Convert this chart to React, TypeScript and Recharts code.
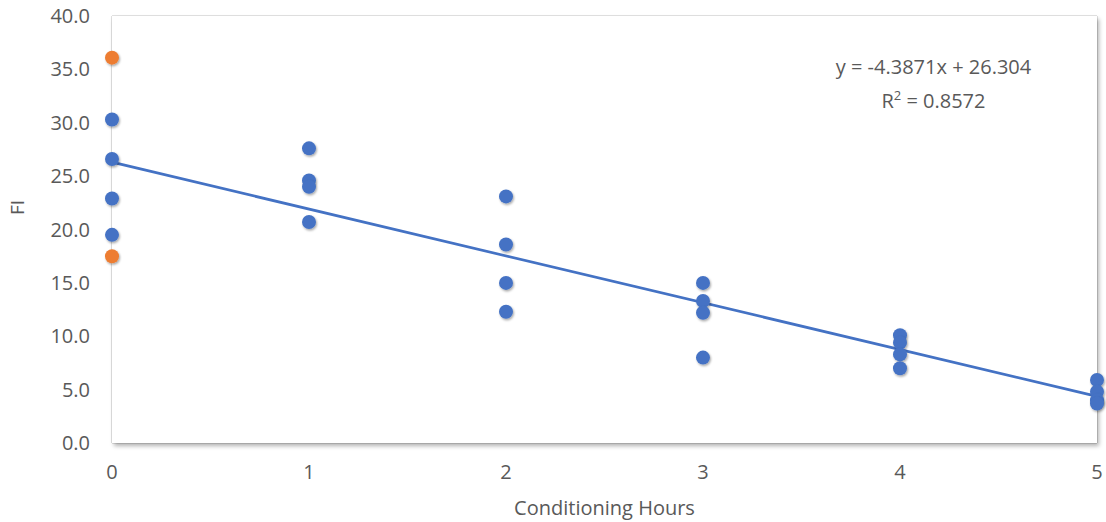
// FI vs. conditioning hours scatter with linear trendline

import {
  ComposedChart,
  Scatter,
  Line,
  XAxis,
  YAxis,
  CartesianGrid,
  ReferenceArea,
  ReferenceDot,
} from "recharts";

const FONT = "'Open Sans', 'Liberation Sans', sans-serif";
const TEXT_COLOR = "#595959";
const BLUE = "#4472C4";
const ORANGE = "#ED7D31";

const hourTicks = [0, 1, 2, 3, 4, 5];
const fiTicks = [0, 5, 10, 15, 20, 25, 30, 35, 40];

// Measured samples
const blueHours = [0, 0, 0, 0, 1, 1, 1, 1, 2, 2, 2, 2, 3, 3, 3, 3, 4, 4, 4, 4, 5, 5, 5, 5];
const blueFI = [
  30.3, 26.6, 22.9, 19.5,
  27.6, 24.6, 24.0, 20.7,
  23.1, 18.6, 15.0, 12.3,
  15.0, 13.3, 12.2, 8.0,
  10.1, 9.4, 8.3, 7.0,
  5.9, 4.8, 4.0, 3.7,
];

// Outliers, left out of the fit
const orangeHours = [0, 0];
const orangeFI = [36.1, 17.5];

// Fit reported on the chart
const slope = -4.3871;
const intercept = 26.304;
const rSquared = 0.8572;

const bluePoints = blueHours.map((x, i) => ({ x, y: blueFI[i] }));
const orangePoints = orangeHours.map((x, i) => ({ x, y: orangeFI[i] }));
const trendPoints = [0, 5].map((x) => ({ x, y: slope * x + intercept }));

const dot = (color: string) => (props: any) => (
  <circle cx={props.cx} cy={props.cy} r={7} fill={color} filter="url(#dotShadow)" />
);

const equationLabel = (props: any) => {
  const { viewBox } = props;
  const cx = viewBox.x;
  const cy = viewBox.y;
  return (
    <g fontFamily={FONT} fontSize={20} fill={TEXT_COLOR} textAnchor="middle">
      <text x={cx} y={cy}>
        {`y = ${slope}x + ${intercept}`}
      </text>
      <text x={cx} y={cy + 34}>
        R<tspan dy={-8} fontSize={13}>2</tspan>
        <tspan dy={8}>{` = ${rSquared}`}</tspan>
      </text>
    </g>
  );
};

const yAxisTitle = (props: any) => {
  const { viewBox } = props;
  const x = 17;
  const y = viewBox.y + viewBox.height / 2 - 22;
  return (
    <text
      x={x}
      y={y}
      transform={`rotate(-90, ${x}, ${y})`}
      textAnchor="middle"
      dominantBaseline="central"
      fontFamily={FONT}
      fontSize={19}
      fill={TEXT_COLOR}
    >
      FI
    </text>
  );
};

export default function App() {
  return (
    <div style={{ position: "absolute", left: 0, top: 0, background: "#fff" }}>
      <ComposedChart
        width={1106}
        height={522}
        margin={{ top: 16, right: 9, left: 0, bottom: 0 }}
      >
        <defs>
          <filter id="dotShadow" x="-50%" y="-50%" width="200%" height="200%">
            <feDropShadow dx={1} dy={1.5} stdDeviation={1.2} floodColor="#000" floodOpacity={0.35} />
          </filter>
          <filter id="plotShadow" x="-5%" y="-5%" width="110%" height="110%">
            <feDropShadow dx={2} dy={3} stdDeviation={2} floodColor="#000" floodOpacity={0.3} />
          </filter>
        </defs>

        <ReferenceArea
          x1={0}
          x2={5}
          y1={0}
          y2={40}
          fill="#fff"
          fillOpacity={1}
          stroke="none"
          filter="url(#plotShadow)"
        />

        <CartesianGrid stroke="#d9d9d9" strokeWidth={1.6} />

        <XAxis
          type="number"
          dataKey="x"
          domain={[0, 5]}
          ticks={hourTicks}
          height={79}
          axisLine={false}
          tickLine={false}
          tickSize={6}
          tickMargin={16}
          tick={{ fill: TEXT_COLOR, fontSize: 20, fontFamily: FONT }}
          label={{
            value: "Conditioning Hours",
            position: "insideBottom",
            offset: 7,
            fill: TEXT_COLOR,
            fontSize: 20,
            fontFamily: FONT,
          }}
        />

        <YAxis
          type="number"
          dataKey="y"
          domain={[0, 40]}
          ticks={fiTicks}
          width={112}
          axisLine={false}
          tickLine={false}
          tickSize={6}
          tickMargin={16}
          tickFormatter={(v: number) => v.toFixed(1)}
          tick={{ fill: TEXT_COLOR, fontSize: 20, fontFamily: FONT }}
          label={{ value: "FI", content: yAxisTitle }}
        />

        <Line
          data={trendPoints}
          dataKey="y"
          type="linear"
          stroke={BLUE}
          strokeWidth={2.75}
          dot={false}
          activeDot={false}
          isAnimationActive={false}
        />

        <Scatter data={bluePoints} fill={BLUE} shape={dot(BLUE)} isAnimationActive={false} />
        <Scatter data={orangePoints} fill={ORANGE} shape={dot(ORANGE)} isAnimationActive={false} />

        <ReferenceDot
          x={4.17}
          y={34.6}
          r={0}
          fill="none"
          stroke="none"
          label={{ content: equationLabel }}
        />
      </ComposedChart>
    </div>
  );
}
